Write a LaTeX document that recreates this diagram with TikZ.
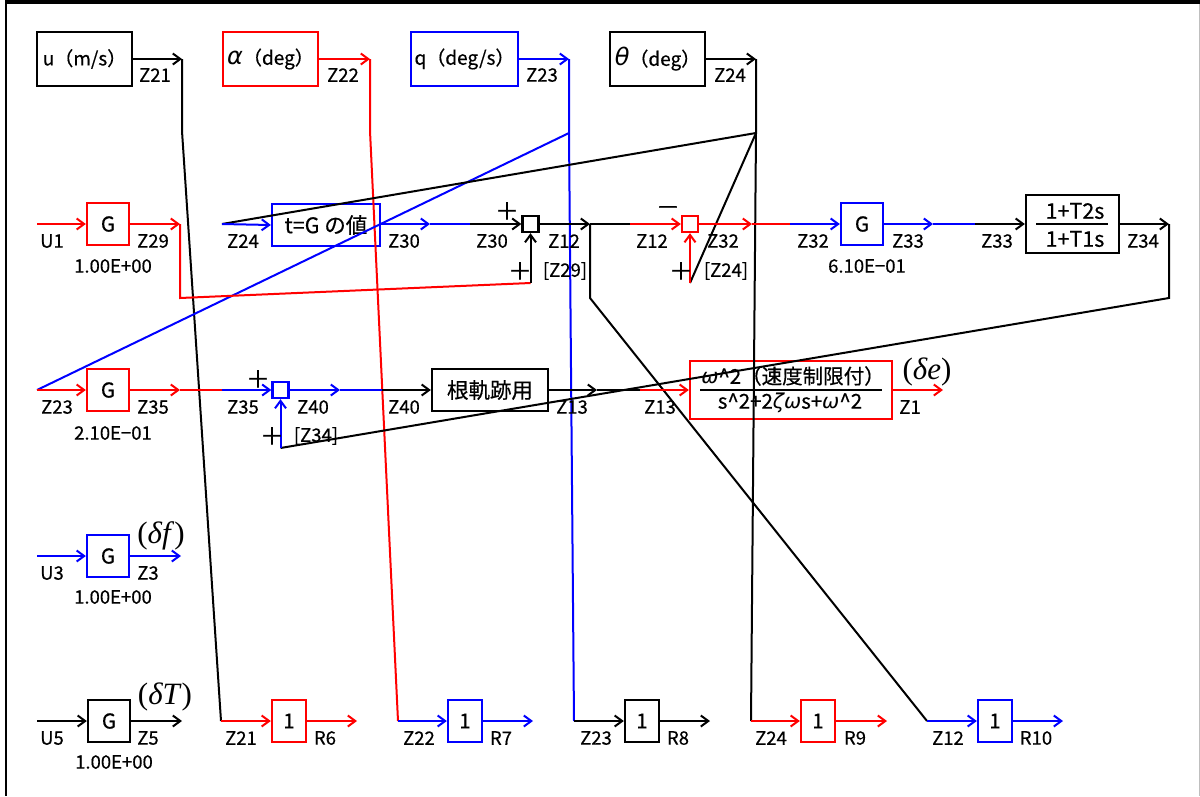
\documentclass[tikz,border=0pt]{standalone}
\usepackage{fontspec}
\setmainfont{Noto Sans CJK JP}[FakeBold=0.5]
\newfontfamily\myserif{Liberation Serif}
\newfontfamily\mygreek{DejaVu Sans}
\usetikzlibrary{arrows.meta}
\newcommand\myfl{\fontsize{18.5}{20}\selectfont}
\newcommand\myfb{\fontsize{20.5}{22}\selectfont}
\newcommand\myfc{\fontsize{21.5}{23}\selectfont}
\newcommand\myft{\fontsize{19}{21}\selectfont}
\newcommand\myfs{\fontsize{24}{24}\selectfont}
\newcommand\myfg{\mygreek\itshape\fontsize{24}{24}\selectfont}
\newcommand\myfd{\myserif\fontsize{31}{32}\selectfont}
\begin{document}
\begin{tikzpicture}[x=1pt,y=-1pt,
  blk/.style={draw,line width=2.3pt,fill=white,inner sep=0pt,font=\myfb},
  gbox/.style={blk,minimum width=42pt,minimum height=42pt},
  obox/.style={blk,minimum width=34pt,minimum height=42pt},
  tbox/.style={blk,minimum width=95pt,minimum height=54pt,font=\myft},
  sj/.style={draw,line width=2.3pt,fill=white,inner sep=0pt,minimum size=16pt},
  lbl/.style={inner sep=0pt,font=\myfl},
  sgn/.style={inner sep=0pt,font=\myfs},
  dl/.style={inner sep=0pt,font=\myfd},
  ln/.style={line width=2pt},
  ar/.style={line width=2pt,-{Straight Barb[length=7.5pt,width=11pt]}}]
\useasboundingbox (0,0) rectangle (1200,796);
% frame
\draw[line width=3.5pt] (5,2) -- (1200,2);
\draw[line width=2pt] (6,2) -- (6,796);
\draw[line width=1pt,black!25] (1199,4) -- (1199,796);

% ---------- blocks ----------
\node[tbox] (bu) at (84.5,59) {u（m/s）};
\node[tbox,draw=red] (ba) at (270.5,59) {{\myfg α}（deg）};
\node[tbox,draw=blue,minimum width=107pt] (bq) at (464.5,59) {q（deg/s）};
\node[tbox] (bt) at (657.5,59) {{\myfg θ}（deg）};

\node[gbox,draw=red] (g1) at (108,224) {G};
\node[blk,draw=blue,minimum width=108pt,minimum height=42pt,font=\myfc] (tg) at (326,225) {t=G の値};
\node[sj] (s1) at (530.5,224) {};
\node[sj,draw=red] (s2) at (690,224) {};
\node[gbox,draw=blue] (g2) at (862,224) {G};
\node[blk,minimum width=93pt,minimum height=58pt] (ll) at (1072.5,224) {};

\node[gbox,draw=red] (g3) at (108,390) {G};
\node[sj,draw=blue] (s3) at (280.5,390) {};
\node[blk,minimum width=116pt,minimum height=42pt,font=\myfc] (rk) at (490,390) {根軌跡用};
\node[blk,draw=red,minimum width=202pt,minimum height=58pt] (rb) at (791,390) {};

\node[gbox,draw=blue] (g4) at (108,556) {G};

\node[gbox] (g5) at (109,721) {G};
\node[obox,draw=red] (r6) at (289,721) {1};
\node[obox,draw=blue] (r7) at (465,721) {1};
\node[obox] (r8) at (642,721) {1};
\node[obox,draw=red] (r9) at (818,721) {1};
\node[obox,draw=blue] (r10) at (995,721) {1};

% fraction contents
\node[inner sep=0pt,font=\myfc] (lln) at (1075,211) {1+T2s};
\node[inner sep=0pt,font=\myfc] (lld) at (1075,239) {1+T1s};
\draw[line width=1.6pt] (1036,224) -- (1108,224);
\node[inner sep=0pt,font=\myfb] (rbn) at (793,376) {{\mygreek\itshape ω}\textasciicircum 2（速度制限付）};
\node[inner sep=0pt,font=\myfb] (rbd) at (790,403) {s\textasciicircum 2+2{\mygreek\itshape ζ}{\mygreek\itshape ω}s+{\mygreek\itshape ω}\textasciicircum 2};
\draw[line width=1.6pt] (700,390) -- (882,390);

% ---------- coordinates ----------
\coordinate (a21) at (182,59);  \coordinate (k21) at (182,131); \coordinate (e21) at (221,721);
\coordinate (a22) at (370,59);  \coordinate (k22) at (370,131); \coordinate (e22) at (398,721);
\coordinate (a23) at (569,59);  \coordinate (k23) at (569,133); \coordinate (e23) at (574,721);
\coordinate (a24) at (756,59);  \coordinate (k24) at (756,133); \coordinate (e24) at (751,721);

\coordinate (u1) at (37,224);  \coordinate (o29) at (180,224); \coordinate (k29) at (180,298); \coordinate (j29) at (530.5,283);
\coordinate (i24) at (222,224);
\coordinate (o30) at (430,224); \coordinate (m30) at (470,224);
\coordinate (o12) at (590,224); \coordinate (m12) at (630,224); \coordinate (k12) at (590,298); \coordinate (e12) at (927,721);
\coordinate (j24) at (690,283);
\coordinate (o32) at (752,224); \coordinate (m32) at (790,224);
\coordinate (o33) at (933,224); \coordinate (m33) at (975,224);
\coordinate (o34) at (1169,224); \coordinate (k34) at (1169,298); \coordinate (j34) at (280.5,448);

\coordinate (i23) at (37,390); \coordinate (o35) at (180,390); \coordinate (m35) at (222,390);
\coordinate (o40) at (340,390); \coordinate (m40) at (382,390);
\coordinate (o13) at (597,390); \coordinate (m13) at (640,390);
\coordinate (o1) at (943,390);

\coordinate (u3) at (37,556); \coordinate (o3) at (181,556);
\coordinate (u5) at (37,721); \coordinate (o5) at (182,721);
\coordinate (o6) at (357,721); \coordinate (o7) at (533,721); \coordinate (o8) at (710,721);
\coordinate (o9) at (887,721); \coordinate (o10) at (1063,721);

% ---------- connectors ----------
\draw[ar] (bu.east) -- (a21);
\draw[ln] (a21) -- (k21) -- (e21);
\draw[ar,red] (e21) -- (r6.west);
\draw[ar,red] (ba.east) -- (a22);
\draw[ln,red] (a22) -- (k22) -- (e22);
\draw[ar,blue] (e22) -- (r7.west);
\draw[ar,blue] (bq.east) -- (a23);
\draw[ln,blue] (a23) -- (k23) -- (e23);
\draw[ln,blue] (k23) -- (i23);
\draw[ar] (e23) -- (r8.west);
\draw[ar] (bt.east) -- (a24);
\draw[ln] (a24) -- (k24) -- (e24);
\draw[ln] (k24) -- (i24);
\draw[ln] (k24) -- (j24);
\draw[ar,red] (e24) -- (r9.west);

\draw[ar,red] (u1) -- (g1.west);
\draw[ar,red] (g1.east) -- (o29);
\draw[ln,red] (o29) -- (k29) -- (j29);
\draw[ar] (j29) -- (s1.south);
\draw[ar,blue] (i24) -- (tg.west);
\draw[ar,blue] (tg.east |- o30) -- (o30);
\draw[ln,blue] (o30) -- (m30);
\draw[ar] (m30) -- (s1.west);
\draw[ar] (s1.east) -- (o12);
\draw[ln] (o12) -- (m12);
\draw[ar,red] (m12) -- (s2.west);
\draw[ln] (o12) -- (k12) -- (e12);
\draw[ar,blue] (e12) -- (r10.west);
\draw[ar,red] (j24) -- (s2.south);
\draw[ar,red] (s2.east) -- (o32);
\draw[ln,red] (o32) -- (m32);
\draw[ar,blue] (m32) -- (g2.west);
\draw[ar,blue] (g2.east) -- (o33);
\draw[ln,blue] (o33) -- (m33);
\draw[ar] (m33) -- (ll.west);
\draw[ar] (ll.east) -- (o34);
\draw[ln] (o34) -- (k34) -- (j34);
\draw[ar,blue] (j34) -- (s3.south);

\draw[ar,red] (i23) -- (g3.west);
\draw[ar,red] (g3.east) -- (o35);
\draw[ln,red] (o35) -- (m35);
\draw[ar,blue] (m35) -- (s3.west);
\draw[ar,blue] (s3.east) -- (o40);
\draw[ln,blue] (o40) -- (m40);
\draw[ar] (m40) -- (rk.west);
\draw[ar] (rk.east) -- (o13);
\draw[ln] (o13) -- (m13);
\draw[ar,red] (m13) -- (rb.west);
\draw[ar,red] (rb.east) -- (o1);

\draw[ar,blue] (u3) -- (g4.west);
\draw[ar,blue] (g4.east) -- (o3);
\draw[ar] (u5) -- (g5.west);
\draw[ar] (g5.east) -- (o5);
\draw[ar,red] (r6.east) -- (o6);
\draw[ar,blue] (r7.east) -- (o7);
\draw[ar] (r8.east) -- (o8);
\draw[ar,red] (r9.east) -- (o9);
\draw[ar,blue] (r10.east) -- (o10);

% ---------- labels ----------
\node[lbl] (l1) at (155,75) {Z21};
\node[lbl] (l2) at (343,75) {Z22};
\node[lbl] (l3) at (542,75) {Z23};
\node[lbl] (l4) at (730,75) {Z24};

\node[lbl] (l5) at (52,241) {U1};
\node[lbl] (l6) at (153,241) {Z29};
\node[lbl] (l7) at (113,266) {1.00E+00};
\node[lbl] (l8) at (243,241) {Z24};
\node[lbl] (l9) at (404,241) {Z30};
\node[lbl] (l10) at (492,241) {Z30};
\node[lbl] (l11) at (564,241) {Z12};
\node[lbl] (l12) at (652,241) {Z12};
\node[lbl] (l13) at (723,241) {Z32};
\node[lbl] (l14) at (813,241) {Z32};
\node[lbl] (l15) at (908,241) {Z33};
\node[lbl] (l16) at (997,241) {Z33};
\node[lbl] (l17) at (1143,241) {Z34};
\node[lbl] (l18) at (867,266) {6.10E−01};

\node[sgn] (p1) at (507,211) {＋};
\node[sgn] (p2) at (520,271) {＋};
\node[lbl] (p3) at (565,271) {[Z29]};
\node[sgn] (p4) at (668,211) {－};
\node[sgn] (p5) at (681,271) {＋};
\node[lbl] (p6) at (726,271) {[Z24]};
\node[sgn] (p7) at (258,379) {＋};
\node[sgn] (p8) at (272,436) {＋};
\node[lbl] (p9) at (316,436) {[Z34]};

\node[lbl] (l19) at (57,407) {Z23};
\node[lbl] (l20) at (153,407) {Z35};
\node[lbl] (l21) at (113,433) {2.10E−01};
\node[lbl] (l22) at (243,407) {Z35};
\node[lbl] (l23) at (313,407) {Z40};
\node[lbl] (l24) at (404,407) {Z40};
\node[lbl] (l25) at (572,407) {Z13};
\node[lbl] (l26) at (660,407) {Z13};
\node[lbl] (l27) at (910,407) {Z1};
\node[dl] (d1) at (927,372) {(\textit{δe})};

\node[lbl] (l28) at (52,573) {U3};
\node[lbl] (l29) at (148,573) {Z3};
\node[lbl] (l30) at (113,597) {1.00E+00};
\node[dl] (d2) at (161,536) {(\textit{δf})};

\node[lbl] (l31) at (52,738) {U5};
\node[lbl] (l32) at (148,738) {Z5};
\node[lbl] (l33) at (114,762) {1.00E+00};
\node[dl] (d3) at (165,697) {(\textit{δT})};
\node[lbl] (l34) at (241,738) {Z21};
\node[lbl] (l35) at (325,738) {R6};
\node[lbl] (l36) at (419,738) {Z22};
\node[lbl] (l37) at (501,738) {R7};
\node[lbl] (l38) at (596,738) {Z23};
\node[lbl] (l39) at (678,738) {R8};
\node[lbl] (l40) at (771,738) {Z24};
\node[lbl] (l41) at (855,738) {R9};
\node[lbl] (l42) at (948,738) {Z12};
\node[lbl] (l43) at (1036,738) {R10};
\end{tikzpicture}
\end{document}
